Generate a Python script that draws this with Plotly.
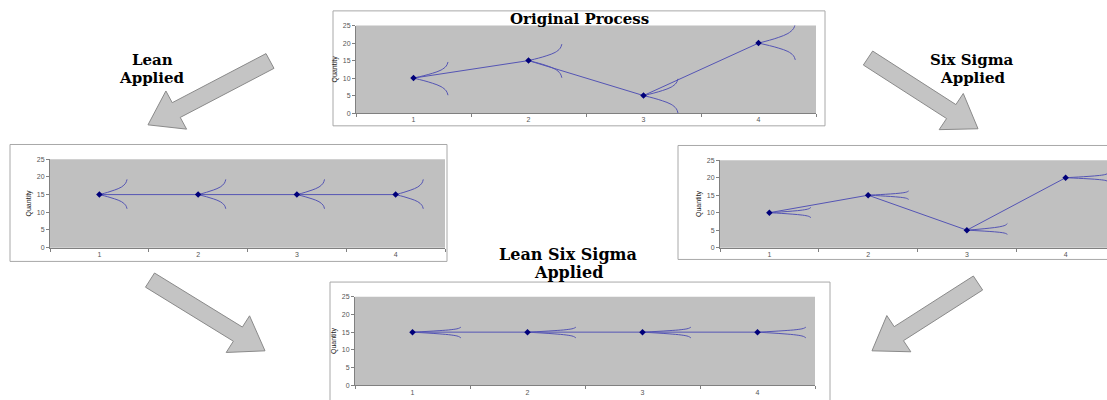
import plotly.graph_objects as go

W, H = 1107, 400

# ---------------- data ----------------
periods = [1, 2, 3, 4]
x_labels = ["1", "2", "3", "4"]
y_ticks = [0, 5, 10, 15, 20, 25]

orig_qty = [10, 15, 5, 20]
orig_upper = [14.6, 19.7, 9.8, 25.5]
orig_lower = [5.1, 10.1, 0.0, 15.2]
orig_reach = [0.30, 0.29, 0.30, 0.32]

lean_qty = [15, 15, 15, 15]
lean_upper = [19.3, 19.3, 19.3, 19.3]
lean_lower = [11.0, 11.0, 11.0, 11.0]
lean_reach = [0.28, 0.28, 0.28, 0.28]

six_qty = [10, 15, 5, 20]
six_upper = [11.5, 16.2, 6.9, 21.3]
six_lower = [8.6, 13.8, 3.8, 18.9]
six_reach = [0.42, 0.41, 0.41, 0.43]

lss_qty = [15, 15, 15, 15]
lss_upper = [16.4, 16.4, 16.4, 16.4]
lss_lower = [13.4, 13.4, 13.4, 13.4]
lss_reach = [0.42, 0.42, 0.42, 0.42]

# curve profile of the spread glyph (fractions of reach / of spread)
prof_dx = [0.0, 0.3, 0.55, 0.8, 0.95, 1.0]
prof_dy = [0.0, 0.15, 0.3, 0.5, 0.75, 1.0]

LINE_C = "rgb(84,84,180)"
MARK_C = "#00007a"
GRAY_BG = "#c0c0c0"


def fx(px):
    return px / W


def fy(py):
    return 1 - py / H


fig = go.Figure()
shapes = []

# chart frames (pixels: x0, y0, x1, y1)
frames = [(333, 7, 825, 124), (10, 143, 447, 262), (678, 144, 1115, 260), (330, 283, 830, 410)]
for x0, y0, x1, y1 in frames:
    shapes.append(dict(type="rect", xref="paper", yref="paper", layer="below",
                       x0=fx(x0), x1=fx(x1), y0=fy(y1), y1=fy(y0),
                       line=dict(color="#a8a8a8", width=1), fillcolor="white"))

# chart geometry: plot left, spacing per category, top, bottom (pixels)
charts = [
    dict(name="", x0=356, sp=115.0, top=22, bot=111, qty=orig_qty, up=orig_upper, lo=orig_lower, reach=orig_reach, ytitle="Quantity"),
    dict(name="2", x0=50, sp=98.75, top=158, bot=248, qty=lean_qty, up=lean_upper, lo=lean_lower, reach=lean_reach, ytitle="Quantity"),
    dict(name="3", x0=720, sp=98.75, top=159, bot=248, qty=six_qty, up=six_upper, lo=six_lower, reach=six_reach, ytitle="Quantity"),
    dict(name="4", x0=355, sp=115.0, top=298, bot=388, qty=lss_qty, up=lss_upper, lo=lss_lower, reach=lss_reach, ytitle="Quantity"),
]

for c in charts:
    n = c["name"]
    x1 = min(c["x0"] + 4 * c["sp"], W)
    xr = [0.5, 0.5 + (x1 - c["x0"]) / c["sp"]]
    xa = "x" + n
    ya = "y" + n
    shapes.append(dict(type="rect", xref="paper", yref="paper", layer="below",
                       x0=fx(c["x0"]), x1=fx(x1), y0=fy(c["bot"]), y1=fy(c["top"]),
                       line=dict(width=0), fillcolor=GRAY_BG))
    # spread glyphs
    cx, cy = [], []
    for p, q, u, l, r in zip(periods, c["qty"], c["up"], c["lo"], c["reach"]):
        for end in (u, l):
            for fdx, fdy in zip(prof_dx, prof_dy):
                cx.append(p + r * fdx)
                cy.append(q + (end - q) * fdy)
            cx.append(None)
            cy.append(None)
    fig.add_trace(go.Scatter(x=cx, y=cy, mode="lines", xaxis=xa, yaxis=ya,
                             line=dict(color=LINE_C, width=1, shape="spline"),
                             hoverinfo="skip", showlegend=False))
    fig.add_trace(go.Scatter(x=periods, y=c["qty"], mode="lines+markers", xaxis=xa, yaxis=ya,
                             line=dict(color=LINE_C, width=1),
                             marker=dict(color=MARK_C, size=5, symbol="diamond"),
                             showlegend=False))
    axis_x = dict(domain=[fx(c["x0"]), fx(x1)], range=xr, anchor=ya,
                  tickvals=periods, ticktext=x_labels, ticks="",
                  minor=dict(ticks="outside", tick0=0.5, dtick=1, ticklen=3, tickcolor="#808080"),
                  showgrid=False, zeroline=False, showline=True, linecolor="#808080", linewidth=1,
                  tickfont=dict(family="Liberation Sans", size=7, color="#555555"))
    axis_y = dict(domain=[fy(c["bot"]), fy(c["top"])], range=[0, 25], anchor=xa,
                  tickvals=y_ticks, ticks="outside", ticklen=3, tickcolor="#808080",
                  showgrid=False, zeroline=False, showline=True, linecolor="#808080", linewidth=1,
                  tickfont=dict(family="Liberation Sans", size=7, color="#555555"),
                  title=dict(text=c["ytitle"], font=dict(family="Liberation Sans", size=7, color="#222222"), standoff=4))
    fig.update_layout(**{"xaxis" + n: axis_x, "yaxis" + n: axis_y})


def block_arrow(tail, tip, shaft_w=17, head_w=44, head_len=32):
    tx, ty = tail
    px, py = tip
    dx, dy = px - tx, py - ty
    L = (dx * dx + dy * dy) ** 0.5
    ux, uy = dx / L, dy / L
    nx, ny = -uy, ux
    bx, by = px - ux * head_len, py - uy * head_len
    pts = [
        (tx + nx * shaft_w / 2, ty + ny * shaft_w / 2),
        (bx + nx * shaft_w / 2, by + ny * shaft_w / 2),
        (bx + nx * head_w / 2, by + ny * head_w / 2),
        (px, py),
        (bx - nx * head_w / 2, by - ny * head_w / 2),
        (bx - nx * shaft_w / 2, by - ny * shaft_w / 2),
        (tx - nx * shaft_w / 2, ty - ny * shaft_w / 2),
    ]
    path = "M " + " L ".join(f"{fx(a):.5f},{fy(b):.5f}" for a, b in pts) + " Z"
    return dict(type="path", xref="paper", yref="paper", path=path,
                fillcolor="#c4c4c4", line=dict(color="#8a8a8a", width=1), layer="above")


arrows = [((270, 58), (148, 123)), ((868, 55), (978, 127)), ((150, 281), (265, 353)), ((978, 284), (872, 353))]
for t, p in arrows:
    shapes.append(block_arrow(t, p))

annotations = []
SERIF = "DejaVu Serif"


def label(text, x, y, size):
    annotations.append(dict(text="<b>" + text + "</b>", x=fx(x), y=fy(y), xref="paper", yref="paper",
                            showarrow=False, xanchor="center", yanchor="middle",
                            font=dict(family=SERIF, size=size, color="black")))


label("Original Process", 579, 15, 15)
label("Lean", 152, 57, 15)
label("Applied", 152, 75, 15)
label("Six Sigma", 972, 57, 15)
label("Applied", 973, 75, 15)
label("Lean Six Sigma", 568, 255, 16)
label("Applied", 568, 273, 16)

fig.update_layout(width=W, height=H, margin=dict(l=0, r=0, t=0, b=0),
                  paper_bgcolor="white", plot_bgcolor="rgba(0,0,0,0)",
                  shapes=shapes, annotations=annotations, showlegend=False)

fig.write_html("out.html", config={"displayModeBar": False},
               post_script="document.body.style.margin='0';")
